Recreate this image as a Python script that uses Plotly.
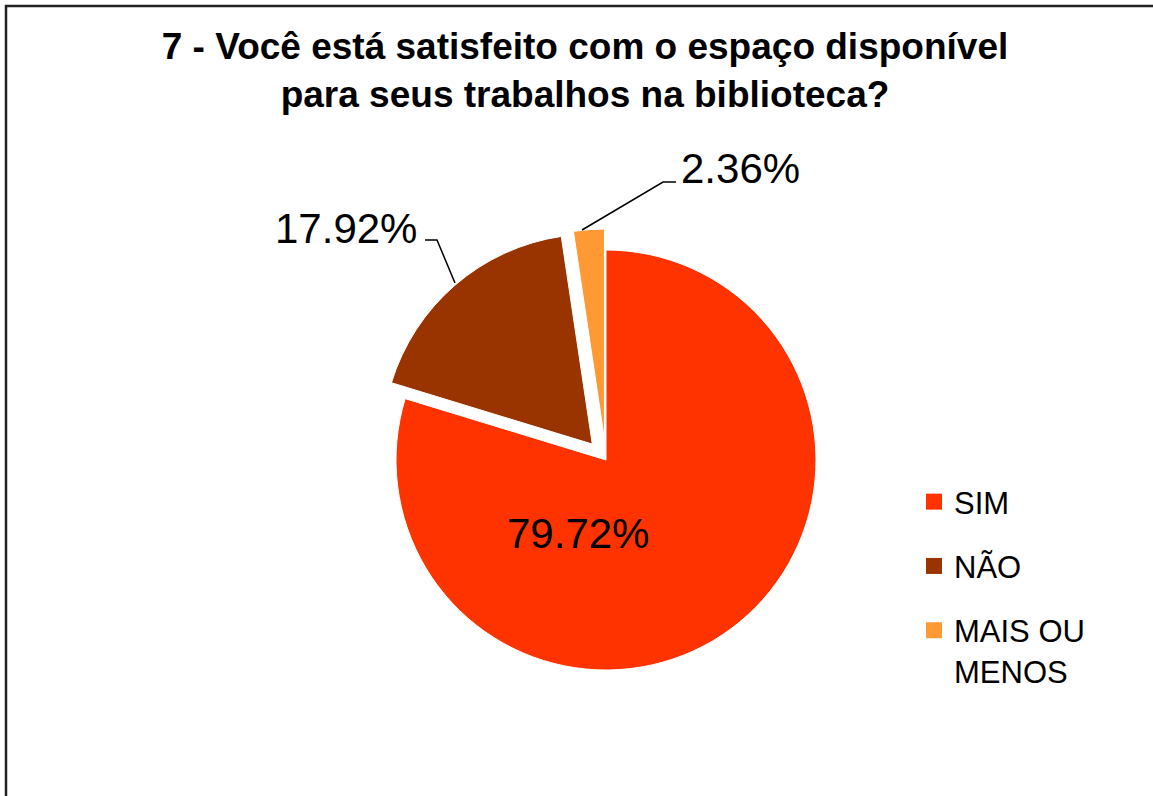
import plotly.graph_objects as go

W, H = 1153, 796

labels = ['SIM', 'NÃO', 'MAIS OU<br>MENOS']
values = [79.72, 17.92, 2.36]
colors = ['#FF3300', '#993300', '#FF9933']
pulls = [0, 0.1, 0.1]

FONT = 'Liberation Sans, Arial, sans-serif'


def px_x(x):
    return x / W


def px_y(y):
    return 1 - y / H


# pie box: centre (606, 460), radius 210 px, plus room for the pull
cx, cy, r = 606, 460, 210
half = r * (1 + max(pulls))

fig = go.Figure(go.Pie(
    labels=labels,
    values=values,
    marker=dict(colors=colors, line=dict(color='white', width=1)),
    pull=pulls,
    sort=False,
    direction='clockwise',
    rotation=0,
    textinfo='none',
    hoverinfo='label+percent',
    showlegend=False,
    domain=dict(x=[px_x(cx - half), px_x(cx + half)],
                y=[px_y(cy + half), px_y(cy - half)]),
))

# legend entries (one per slice) so the spacing between them can be set
for lab, c in zip(labels, colors):
    fig.add_trace(go.Scatter(
        x=[None], y=[None], mode='markers', name=lab, legendgroup=lab,
        marker=dict(symbol='square', size=17, color=c),
    ))

# data labels, Excel style: one inside, two outside with leader lines
label_pos = [
    dict(x=578, y=533, xanchor='center'),
    dict(x=419, y=228, xanchor='right'),
    dict(x=679, y=168, xanchor='left'),
]
for v, pos in zip(values, label_pos):
    fig.add_annotation(
        text=f'{v:.2f}%', x=px_x(pos['x']), y=px_y(pos['y']),
        xref='paper', yref='paper', xanchor=pos['xanchor'], yanchor='middle',
        showarrow=False, font=dict(family=FONT, size=42, color='black'),
    )

leaders = [
    [(425, 240), (437, 240), (455, 283)],
    [(676, 182), (663, 182), (582, 230)],
]
for pts in leaders:
    path = 'M ' + ' L '.join(f'{px_x(x)},{px_y(y)}' for x, y in pts)
    fig.add_shape(type='path', path=path, xref='paper', yref='paper',
                  line=dict(color='black', width=1.5))

# chart area border, only top and left edges show in the crop
fig.add_shape(type='rect', xref='paper', yref='paper',
              x0=px_x(6), y0=px_y(H + 20), x1=px_x(W + 20), y1=px_y(6),
              line=dict(color='#222222', width=2.5))

fig.update_xaxes(visible=False)
fig.update_yaxes(visible=False)
fig.update_layout(
    width=W, height=H,
    margin=dict(l=0, r=0, t=0, b=0),
    paper_bgcolor='white',
    plot_bgcolor='white',
    title=dict(
        text='<b>7 - Você está satisfeito com o espaço disponível<br>para seus trabalhos na biblioteca?</b>',
        x=px_x(585), xanchor='center',
        y=px_y(59), yanchor='top', yref='paper',
        font=dict(family=FONT, size=37, color='black'),
    ),
    legend=dict(
        x=px_x(914), y=px_y(475), xanchor='left', yanchor='top',
        font=dict(family=FONT, size=31, color='black'),
        bgcolor='rgba(0,0,0,0)',
        traceorder='grouped', tracegroupgap=21, valign='top',
    ),
    showlegend=True,
)

fig.write_html('out.html', config={'displayModeBar': False},
               post_script="document.body.style.margin = '0';")
